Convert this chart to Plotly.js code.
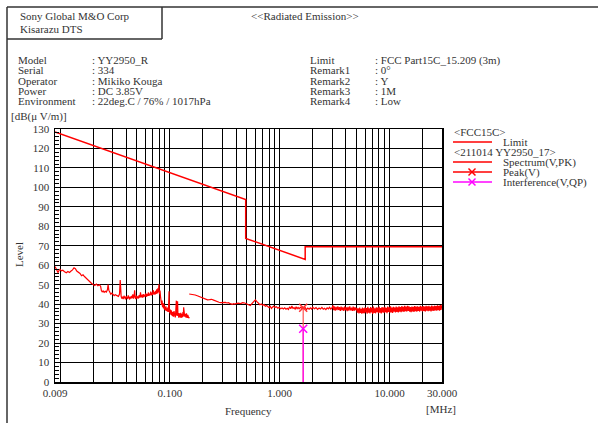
<!DOCTYPE html>
<html><head><meta charset="utf-8">
<script src="https://cdn.plot.ly/plotly-3.0.1.min.js"></script>
<style>html,body{margin:0;padding:0;background:#fff;}#chart{width:598px;height:423px;}</style>
</head><body><div id="chart"></div>
<script>
// ---- data ----
const limitFreq  = [0.009, 0.49, 0.49, 1.705, 1.705, 30];
const limitLevel = [128.5, 93.8, 73.8, 63.0, 69.5, 69.5];

const spec1Freq = [0.0090,0.0092,0.0094,0.0096,0.0098,0.0100,0.0103,0.0106,0.0110,0.0114,0.0118,0.0122,0.0126,0.0130,0.0134,0.0138,0.0142,0.0147,0.0152,0.0157,0.0162,0.0167,0.0172,0.0177,0.0182,0.0188,0.0194,0.0200,0.0207,0.0214,0.0221,0.0228,0.0234,
0.0238,0.0242,0.0247,0.0252,0.0258,0.0264,0.0270,0.0274,0.0278,0.0284,0.0290,0.0297,0.0304,0.0311,0.0318,0.0325,0.0332,0.0340,0.0348,0.0353,0.0356,0.0360,0.0365,0.0370,0.0376,0.0382,0.0388,0.0394,0.0400,0.0406,0.0412,0.0418,0.0424,0.0430,0.0436,0.0442,0.0448,0.0454,0.0460,0.0466,0.0472,0.0478,0.0484,0.0490,0.0497,0.0504,0.0511,0.0518,0.0525,0.0532,0.0540,0.0548,0.0556,0.0564,0.0572,0.0580,0.0588,0.0596,0.0604,0.0612,0.0620,0.0628,0.0636,0.0644,0.0652,0.0660,0.0669,0.0678,0.0687,0.0696,0.0705,0.0714,0.0723,0.0732,0.0741,0.0750,0.0759,0.0768,0.0777,0.0786,0.0795,0.0804,0.0813,0.0822,0.0831,0.0840,0.0849,0.0858,0.0867,0.0876,0.0885,0.0894,0.0903,0.0912,0.0921,0.0930,0.0940,0.0950,0.0960,0.0970,0.0983,0.0990,0.1000,0.1010,0.1020,0.1030,0.1040,0.1050,0.1060,0.1070,0.1080,0.1090,0.1100,0.1110,0.1120,0.1130,0.1145,0.1155,0.1165,0.1175,0.1185,0.1195,0.1205,0.1215,0.1225,0.1235,0.1245,0.1255,0.1265,0.1275,0.1285,0.1295,0.1305,0.1315,0.1325,0.1335,0.1345,0.1355,0.1365,0.1375,0.1385,0.1395,0.1405,0.1415,0.1425,0.1435,0.1445,0.1455,0.1465,0.1475,0.1485,0.1500];
const spec1Level = [59.4,58.1,56.9,56.2,57.4,57.9,57.1,57.4,56.7,56.1,56.8,56.3,57.0,57.6,58.7,58.2,57.0,56.3,55.8,54.6,55.1,54.2,53.4,52.6,51.9,51.2,50.6,50.1,49.6,50.3,49.5,50.0,49.2,
47.0,46.3,46.8,46.1,46.6,46.2,47.4,50.1,47.2,45.6,45.1,45.7,44.8,44.4,44.9,44.5,44.2,44.0,45.2,52.4,49.0,44.0,42.8,43.9,42.6,44.3,43.0,42.5,44.1,43.2,42.7,44.5,43.0,42.4,43.8,42.9,44.2,43.1,45.0,42.8,44.0,47.1,43.2,42.6,44.4,43.0,43.9,42.9,44.6,43.3,46.1,43.5,44.7,43.4,45.2,43.6,44.9,44.0,45.6,43.8,45.1,44.2,46.0,44.3,45.4,44.6,46.5,44.5,45.9,44.8,47.2,45.0,46.3,44.9,46.8,45.3,47.6,45.5,48.1,46.0,50.2,45.1,47.0,43.8,41.2,39.6,41.8,38.4,40.5,37.8,39.9,37.2,38.6,36.8,38.9,36.5,37.9,36.2,38.4,36.0,46.6,37.1,35.4,37.2,34.6,36.8,34.2,36.1,33.8,35.9,33.5,36.4,34.0,35.6,33.2,35.8,41.8,34.1,36.3,41.5,33.9,35.2,33.0,35.4,33.4,34.9,33.1,35.5,33.6,34.7,33.0,35.1,33.4,36.0,33.7,38.4,34.2,36.8,33.5,35.0,33.2,34.8,33.1,35.3,33.6,34.6,32.9,34.5,33.3,34.2,32.8,33.4];

const spec2Freq = [0.150,0.160,0.170,0.180,0.190,0.200,0.210,0.220,0.230,0.240,0.250,0.260,0.270,0.280,0.290,0.300,0.310,0.320,0.330,0.340,0.350,0.360,0.370,0.380,0.390,0.400,0.420,0.440,0.460,0.480,0.500,0.520,0.540,0.560,0.580,0.600,0.620,0.640,0.660,0.680,0.700,0.720,0.740,0.760,0.780,0.800,0.820,0.840,0.860,0.880,0.900,0.930,0.960,0.990,1.020,1.050,1.080,1.110,1.140,1.170,1.200,1.230,1.260,1.290,1.320,1.350,1.380,1.410,1.440,1.470,1.500,1.540,1.580,1.610,1.635,1.660,1.700,1.750,1.800,1.850,1.900,1.950,2.000,2.070,2.140,2.210,2.280,2.350,2.420,2.490,2.560,2.630,2.700,2.770,2.840,2.920,3.000,3.050,3.100,3.150,3.200,3.260,3.320,3.380,3.440,3.500,3.560,3.620,3.690,3.760,3.830,3.900,3.970,4.040,4.110,4.180,4.260,4.340,4.420,4.500,4.580,4.660,4.750,4.840,4.930,
5.02,5.10,5.18,5.26,5.34,5.42,5.50,5.58,5.66,5.74,5.82,5.90,5.98,6.07,6.16,6.25,6.34,6.43,6.52,6.62,
6.72,6.82,6.92,7.02,7.13,7.24,7.35,7.46,7.57,7.68,7.80,7.92,8.04,8.16,8.28,8.40,8.53,8.66,8.79,8.92,
9.05,9.19,9.33,9.47,9.61,9.75,9.90,10.05,10.20,10.35,10.50,10.66,10.82,10.98,11.14,11.31,11.48,11.65,11.82,12.00,
12.18,12.36,12.55,12.74,12.93,13.12,13.32,13.52,13.72,13.93,14.14,14.35,14.57,14.79,15.01,15.24,15.47,15.70,15.94,16.18,
16.42,16.67,16.92,17.17,17.43,17.69,17.96,18.23,18.50,18.78,19.06,19.35,19.64,19.94,20.24,20.54,20.85,21.16,21.48,21.80,
22.13,22.46,22.80,23.14,23.49,23.84,24.20,24.56,24.93,25.30,25.68,26.07,26.46,26.86,27.26,27.67,28.09,28.51,28.94,29.37,
29.70,30.00];
const spec2Level = [45.2,45.0,44.7,44.2,43.6,43.0,42.5,42.2,42.3,42.5,42.1,41.6,41.3,41.0,40.8,40.9,40.7,40.9,40.6,40.8,40.4,40.1,39.9,40.2,40.0,40.3,40.5,40.3,40.8,40.6,40.2,39.6,39.3,40.4,41.5,42.2,41.3,40.2,39.7,40.1,39.4,39.8,38.9,39.3,38.6,38.2,38.9,37.8,38.5,39.0,38.3,38.7,37.9,38.4,37.6,38.0,37.5,38.1,37.4,37.9,37.3,38.7,37.6,39.1,37.8,38.2,37.5,38.6,37.7,38.3,37.6,38.4,37.9,38.5,38.2,37.7,38.3,37.2,38.0,37.4,38.1,37.5,38.4,37.6,38.2,37.3,38.0,37.5,38.3,37.4,37.9,37.2,38.1,37.6,38.4,37.5,38.2,39.4,36.9,38.8,36.7,38.6,36.9,38.9,37.0,38.5,36.6,38.7,36.8,38.4,36.5,38.8,36.9,38.3,36.4,38.6,36.7,38.9,36.8,38.2,36.5,38.7,36.6,38.5,36.9,
38.1,35.6,37.8,35.2,38.3,35.5,37.6,35.1,38.2,35.4,37.9,35.3,38.4,35.7,38.0,35.1,38.6,35.6,37.8,35.2,
38.5,35.8,38.1,35.0,38.7,35.5,37.9,35.3,38.4,35.9,38.2,35.4,38.8,35.6,38.0,35.2,38.5,35.8,38.3,35.5,
38.6,35.9,38.1,35.4,38.7,36.0,38.4,35.6,38.9,35.8,38.2,35.5,38.6,36.1,38.3,35.7,38.8,36.0,38.4,35.8,
38.9,36.2,38.5,35.9,39.0,36.3,38.6,36.0,39.1,36.4,38.8,36.2,39.2,36.5,38.9,36.1,38.5,35.9,38.8,36.3,
38.6,36.0,39.0,36.4,38.7,36.1,38.9,36.5,38.6,36.2,39.1,36.6,38.8,36.3,39.0,36.5,38.7,36.2,39.2,36.6,
38.9,36.4,39.1,36.7,38.8,36.3,39.3,36.6,38.9,36.5,39.2,36.8,39.0,36.6,39.4,36.9,39.1,36.7,39.5,37.0,
39.3,39.8];

const peakFreq  = [1.635];
const peakLevel = [38.2];
const qpFreq    = [1.635];
const qpLevel   = [27.4];

const xTickVals = [0.009,0.01,0.02,0.03,0.04,0.05,0.06,0.07,0.08,0.09,0.1,0.2,0.3,0.4,0.5,0.6,0.7,0.8,0.9,1,2,3,4,5,6,7,8,9,10,20,30];
const xTickText = ['0.009','','','','','','','','','','0.100','','','','','','','','','1.000','','','','','','','','','10.000','','30.000'];

// ---- layout helpers (pixel -> paper) ----
const L=55, T=129, W=387, H=253;
const px = x => (x - L) / W;
const py = y => (T + H - y) / H;
const FONT = 'Liberation Serif, DejaVu Serif, serif';
const TXT = '#333';

function ann(text, x, y, anchor, extra) {
  return Object.assign({text: text, x: px(x), y: py(y), xref:'paper', yref:'paper',
    xanchor: anchor || 'left', yanchor:'middle', showarrow:false, borderpad:0,
    font:{family:FONT, size:11, color:TXT}}, extra || {});
}
function line(x0,y0,x1,y1,color,width){
  return {type:'line', xref:'paper', yref:'paper', x0:px(x0), y0:py(y0), x1:px(x1), y1:py(y1),
    line:{color:color, width:width||1}};
}
function cross(cx,cy,color){
  return [line(cx-3.5,cy-3.5,cx+3.5,cy+3.5,color,1.5), line(cx-3.5,cy+3.5,cx+3.5,cy-3.5,color,1.5)];
}

const infoL = ['Model','Serial','Operator','Power','Environment'];
const infoLV = [': YY2950_R',': 334',': Mikiko Kouga',': DC 3.85V',': 22deg.C / 76% / 1017hPa'];
const infoR = ['Limit','Remark1','Remark2','Remark3','Remark4'];
const infoRV = [': FCC Part15C_15.209 (3m)',': 0°',': Y',': 1M',': Low'];
const infoY = [60, 70.3, 80.6, 90.9, 101.2];

const annotations = [
  ann('Sony Global M&amp;O Corp', 19, 16),
  ann('Kisarazu DTS', 19, 29),
  ann('&lt;&lt;Radiated Emission&gt;&gt;', 305, 16, 'center'),
  ann('[dB(μ V/m)]', 10, 116.5),
  ann('Level', 19, 255, 'center', {textangle:-90}),
  ann('Frequency', 248, 410.5, 'center'),
  ann('[MHz]', 441, 409, 'center'),
  ann('&lt;FCC15C&gt;', 453, 132),
  ann('Limit', 502, 142),
  ann('&lt;211014 YY2950_17&gt;', 453, 152),
  ann('Spectrum(V,PK)', 502, 162),
  ann('Peak(V)', 502, 172),
  ann('Interference(V,QP)', 502, 182)
];
infoL.forEach((t,i)=>{
  annotations.push(ann(t, 17, infoY[i]));
  annotations.push(ann(infoLV[i], 91, infoY[i]));
  annotations.push(ann(infoR[i], 309, infoY[i]));
  annotations.push(ann(infoRV[i], 374, infoY[i]));
});

const shapes = [
  line(7,7,598,7,'#333',1.5),
  line(7,7,7,423,'#333',1.5),
  line(162,7,162,39,'#333',1.5),
  line(7,39,162,39,'#333',1.5),
  line(453,142,492,142,'red',1.5),
  line(453,162,492,162,'red',1.5),
  line(453,172,492,172,'red',1.5),
  line(453,182,492,182,'#ff44ff',2)
].concat(cross(472,172,'red')).concat(cross(472,182,'#ff00ff'));

const traces = [
  {x: limitFreq, y: limitLevel, type:'scatter', mode:'lines', line:{color:'#ff0000', width:1.5}, name:'Limit'},
  {x: spec1Freq, y: spec1Level, type:'scatter', mode:'lines', line:{color:'#ff0000', width:1.2}, name:'Spectrum'},
  {x: spec2Freq, y: spec2Level, type:'scatter', mode:'lines', line:{color:'#ff0000', width:1.2}, name:'Spectrum2'},
  {x: [peakFreq[0], peakFreq[0]], y: [0, peakLevel[0]], type:'scatter', mode:'lines', line:{color:'#ff5050', width:1.2}},
  {x: [qpFreq[0], qpFreq[0]], y: [0, qpLevel[0]], type:'scatter', mode:'lines', line:{color:'#ff00ff', width:1.2}},
  {x: peakFreq, y: peakLevel, type:'scatter', mode:'markers', marker:{symbol:'x-thin', size:8, line:{color:'#ff3030', width:1.5}}},
  {x: qpFreq, y: qpLevel, type:'scatter', mode:'markers', marker:{symbol:'x-thin', size:8, line:{color:'#ff00ff', width:1.5}}}
];

const layout = {
  width:598, height:423,
  margin:{l:L, r:598-L-W, t:T, b:423-T-H, pad:0},
  paper_bgcolor:'#fff', plot_bgcolor:'#fff',
  showlegend:false,
  font:{family:FONT, size:11, color:TXT},
  xaxis:{type:'log', range:[Math.log10(0.009), Math.log10(30)], tickmode:'array',
    tickvals:xTickVals, ticktext:xTickText, showgrid:true, gridcolor:'#000', gridwidth:1,
    ticks:'', showline:true, linecolor:'#000', linewidth:1.5, mirror:true, zeroline:false,
    tickfont:{family:FONT, size:11, color:TXT}, automargin:false},
  yaxis:{range:[0,130], dtick:10, tick0:0, showgrid:true, gridcolor:'#000', gridwidth:1,
    ticks:'inside', ticklen:4, tickcolor:'#000', showline:true, linecolor:'#000', linewidth:1.5,
    mirror:true, zeroline:false, tickfont:{family:FONT, size:11, color:TXT}, automargin:false,
    ticklabelstandoff:2,
    minor:{dtick:2, ticks:'inside', ticklen:4, tickcolor:'#000', showgrid:false}},
  annotations: annotations,
  shapes: shapes
};

Plotly.newPlot('chart', traces, layout, {staticPlot:true, displayModeBar:false});
</script>
</body></html>
